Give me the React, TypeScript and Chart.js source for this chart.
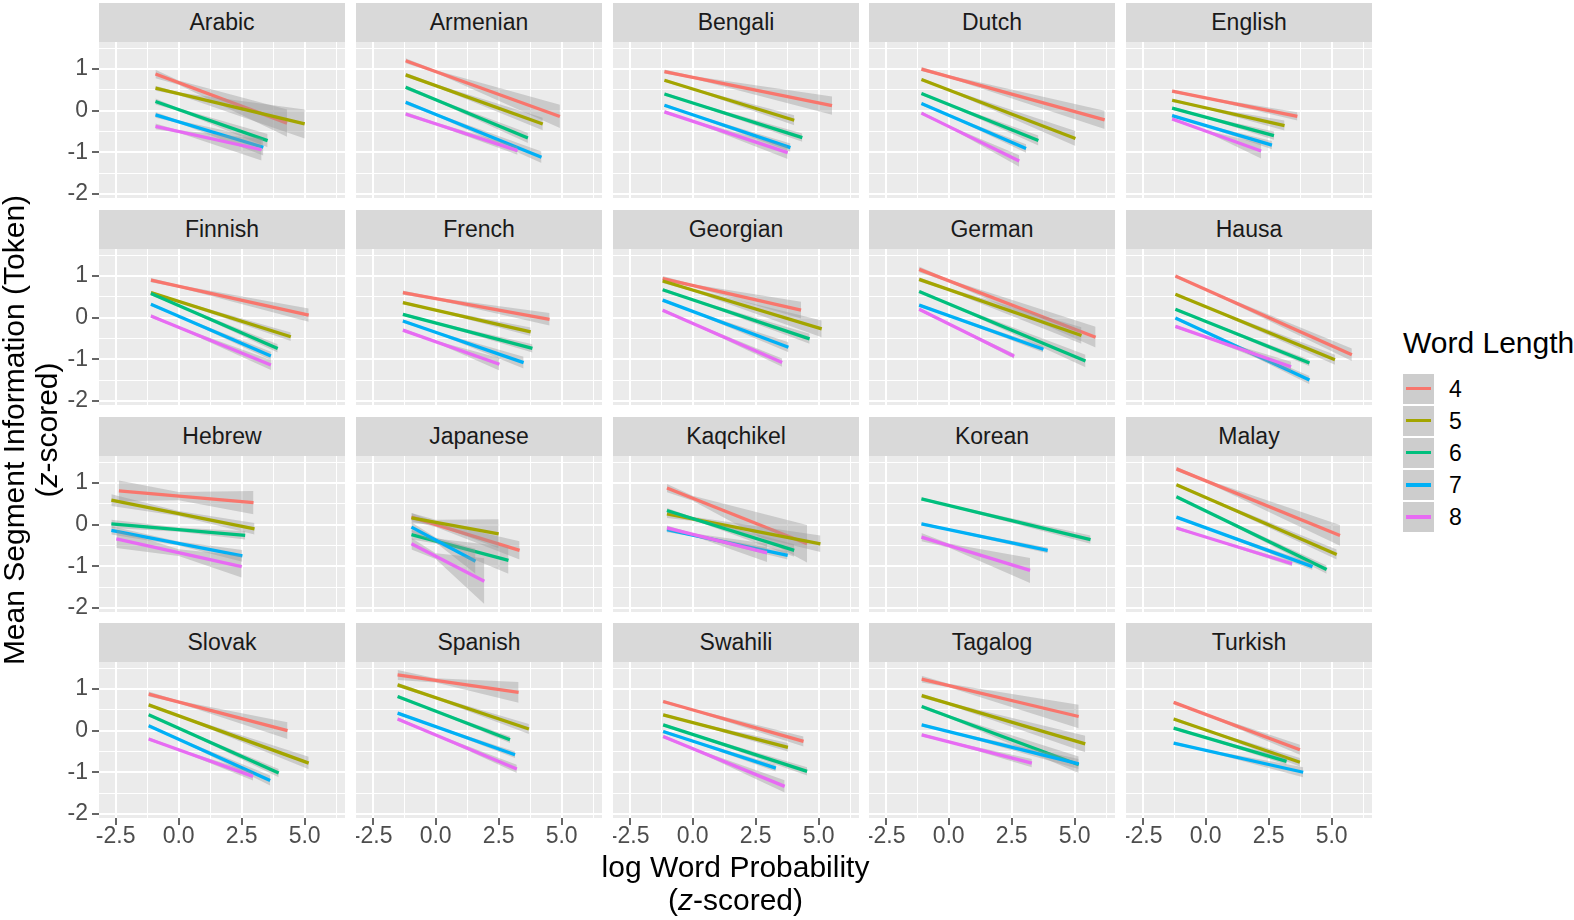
import React, { useEffect, useRef } from "react";
import { Chart, registerables } from "chart.js";

Chart.register(...registerables);

const FONT = "'Liberation Sans', Arial, Helvetica, sans-serif";
Chart.defaults.font.family = FONT;

// ---------------- data ----------------
const languages = [
  "Arabic", "Armenian", "Bengali", "Dutch", "English",
  "Finnish", "French", "Georgian", "German", "Hausa",
  "Hebrew", "Japanese", "Kaqchikel", "Korean", "Malay",
  "Slovak", "Spanish", "Swahili", "Tagalog", "Turkish",
];
const wordLengths = ["4", "5", "6", "7", "8"];
const lengthColors = ["#F8766D", "#A3A500", "#00BF7D", "#00B0F6", "#E76BF3"];

const xMajorTicks = [-2.5, 0, 2.5, 5];
const xTickLabels = ["-2.5", "0.0", "2.5", "5.0"];
const xMinorTicks = [-1.25, 1.25, 3.75, 6.25];
const yMajorTicks = [-2, -1, 0, 1];
const yTickLabels = ["-2", "-1", "0", "1"];
const yMinorTicks = [-1.5, -0.5, 0.5, 1.5];

const X_MIN = -3.16, X_MAX = 6.6;
const Y_MIN = -2.1, Y_MAX = 1.65;
const BAND_NECK_X = 0; // x where the confidence band is narrowest

// one row per word length (4..8): [x0, y0, x1, y1, bandStart, bandNeck, bandEnd]
const arabic = [
  [-0.92, 0.88, 4.3, -0.3, 0.1, 0.05, 0.33],
  [-0.92, 0.54, 5.0, -0.32, 0.06, 0.03, 0.35],
  [-0.92, 0.22, 3.53, -0.72, 0.07, 0.03, 0.16],
  [-0.92, -0.1, 3.36, -0.88, 0.07, 0.03, 0.2],
  [-0.92, -0.38, 3.29, -0.94, 0.07, 0.03, 0.26],
];
const armenian = [
  [-1.19, 1.2, 4.93, -0.14, 0.06, 0.03, 0.28],
  [-1.19, 0.86, 4.25, -0.32, 0.05, 0.03, 0.15],
  [-1.19, 0.56, 3.66, -0.66, 0.05, 0.03, 0.12],
  [-1.19, 0.2, 4.2, -1.12, 0.05, 0.03, 0.14],
  [-1.19, -0.08, 3.25, -0.96, 0.05, 0.03, 0.1],
];
const bengali = [
  [-1.12, 0.94, 5.53, 0.12, 0.05, 0.03, 0.22],
  [-1.12, 0.73, 4.03, -0.23, 0.04, 0.02, 0.12],
  [-1.12, 0.4, 4.35, -0.65, 0.04, 0.02, 0.1],
  [-1.12, 0.13, 3.88, -0.89, 0.04, 0.02, 0.1],
  [-1.12, -0.03, 3.77, -1.01, 0.04, 0.02, 0.15],
];
const dutch = [
  [-1.08, 1.0, 6.19, -0.22, 0.05, 0.03, 0.22],
  [-1.08, 0.75, 5.03, -0.67, 0.04, 0.02, 0.18],
  [-1.08, 0.41, 3.56, -0.72, 0.04, 0.02, 0.12],
  [-1.08, 0.17, 3.07, -0.91, 0.04, 0.02, 0.1],
  [-1.08, -0.06, 2.8, -1.21, 0.04, 0.02, 0.14],
];
const english = [
  [-1.33, 0.47, 3.64, -0.14, 0.04, 0.02, 0.1],
  [-1.33, 0.25, 3.13, -0.36, 0.04, 0.02, 0.12],
  [-1.33, 0.06, 2.71, -0.6, 0.04, 0.02, 0.1],
  [-1.33, -0.12, 2.63, -0.83, 0.04, 0.02, 0.1],
  [-1.33, -0.2, 2.2, -0.97, 0.04, 0.02, 0.18],
];
const finnish = [
  [-1.1, 0.9, 5.16, 0.06, 0.05, 0.03, 0.16],
  [-1.1, 0.6, 4.45, -0.46, 0.04, 0.02, 0.1],
  [-1.1, 0.58, 3.93, -0.74, 0.04, 0.02, 0.1],
  [-1.1, 0.32, 3.66, -0.92, 0.04, 0.02, 0.1],
  [-1.1, 0.04, 3.66, -1.14, 0.04, 0.02, 0.12],
];
const french = [
  [-1.3, 0.6, 4.52, -0.04, 0.05, 0.03, 0.15],
  [-1.3, 0.36, 3.77, -0.34, 0.04, 0.02, 0.1],
  [-1.3, 0.08, 3.84, -0.74, 0.04, 0.02, 0.1],
  [-1.3, -0.08, 3.49, -1.08, 0.04, 0.02, 0.14],
  [-1.3, -0.3, 2.53, -1.12, 0.04, 0.02, 0.15],
];
const georgian = [
  [-1.19, 0.94, 4.3, 0.18, 0.06, 0.03, 0.2],
  [-1.19, 0.88, 5.12, -0.27, 0.05, 0.03, 0.2],
  [-1.19, 0.67, 4.64, -0.51, 0.04, 0.02, 0.12],
  [-1.19, 0.42, 3.8, -0.71, 0.04, 0.02, 0.12],
  [-1.19, 0.18, 3.55, -1.08, 0.04, 0.02, 0.1],
];
const german = [
  [-1.17, 1.16, 5.83, -0.47, 0.07, 0.03, 0.25],
  [-1.17, 0.92, 5.27, -0.43, 0.05, 0.03, 0.2],
  [-1.17, 0.63, 5.43, -1.04, 0.04, 0.02, 0.15],
  [-1.17, 0.3, 3.76, -0.76, 0.04, 0.02, 0.08],
  [-1.17, 0.2, 2.6, -0.93, 0.04, 0.02, 0.06],
];
const hausa = [
  [-1.2, 1.0, 5.8, -0.89, 0.04, 0.02, 0.15],
  [-1.2, 0.56, 5.13, -1.01, 0.04, 0.02, 0.12],
  [-1.2, 0.2, 4.12, -1.09, 0.04, 0.02, 0.08],
  [-1.2, -0.01, 4.12, -1.5, 0.04, 0.02, 0.1],
  [-1.2, -0.21, 3.39, -1.18, 0.04, 0.02, 0.12],
];
const hebrew = [
  [-2.37, 0.81, 2.97, 0.53, 0.25, 0.1, 0.28],
  [-2.67, 0.59, 3.01, -0.1, 0.14, 0.06, 0.14],
  [-2.67, 0.02, 2.64, -0.26, 0.1, 0.05, 0.1],
  [-2.67, -0.14, 2.53, -0.75, 0.1, 0.05, 0.14],
  [-2.47, -0.34, 2.5, -1.01, 0.22, 0.08, 0.26],
];
const japanese = [
  [-0.96, 0.18, 3.33, -0.62, 0.1, 0.06, 0.22],
  [-0.96, 0.16, 2.5, -0.22, 0.12, 0.06, 0.35],
  [-0.96, -0.24, 2.89, -0.86, 0.12, 0.06, 0.32],
  [-0.96, -0.06, 1.58, -0.88, 0.12, 0.06, 0.3],
  [-0.96, -0.46, 1.93, -1.36, 0.14, 0.07, 0.55],
];
const kaqchikel = [
  [-1.02, 0.88, 4.54, -0.46, 0.1, 0.06, 0.45],
  [-1.02, 0.26, 5.07, -0.46, 0.1, 0.05, 0.2],
  [-1.02, 0.34, 4.03, -0.62, 0.06, 0.03, 0.15],
  [-1.02, -0.12, 3.77, -0.74, 0.06, 0.03, 0.1],
  [-1.02, -0.08, 2.95, -0.68, 0.06, 0.03, 0.22],
];
const korean = [
  null,
  null,
  [-1.08, 0.62, 5.63, -0.36, 0.04, 0.02, 0.1],
  [-1.08, 0.02, 3.93, -0.62, 0.04, 0.02, 0.07],
  [-1.08, -0.3, 3.23, -1.1, 0.1, 0.05, 0.3],
];
const malay = [
  [-1.16, 1.34, 5.33, -0.26, 0.05, 0.03, 0.25],
  [-1.16, 0.96, 5.2, -0.72, 0.04, 0.02, 0.12],
  [-1.16, 0.67, 4.8, -1.08, 0.04, 0.02, 0.1],
  [-1.16, 0.18, 4.24, -1.01, 0.04, 0.02, 0.08],
  [-1.16, -0.08, 3.43, -0.94, 0.04, 0.02, 0.06],
];
const slovak = [
  [-1.19, 0.88, 4.32, 0.0, 0.06, 0.03, 0.2],
  [-1.19, 0.62, 5.16, -0.78, 0.04, 0.02, 0.15],
  [-1.19, 0.38, 3.97, -1.02, 0.04, 0.02, 0.1],
  [-1.19, 0.12, 3.63, -1.2, 0.04, 0.02, 0.12],
  [-1.19, -0.2, 2.95, -1.1, 0.04, 0.02, 0.1],
];
const spanish = [
  [-1.51, 1.34, 3.29, 0.92, 0.12, 0.05, 0.25],
  [-1.51, 1.1, 3.7, 0.04, 0.05, 0.03, 0.12],
  [-1.51, 0.82, 2.95, -0.22, 0.04, 0.02, 0.08],
  [-1.51, 0.42, 3.15, -0.58, 0.04, 0.02, 0.08],
  [-1.51, 0.28, 3.22, -0.92, 0.04, 0.02, 0.1],
];
const swahili = [
  [-1.17, 0.7, 4.4, -0.26, 0.04, 0.02, 0.12],
  [-1.17, 0.38, 3.78, -0.4, 0.04, 0.02, 0.1],
  [-1.17, 0.14, 4.54, -0.98, 0.04, 0.02, 0.1],
  [-1.17, -0.02, 3.3, -0.9, 0.04, 0.02, 0.08],
  [-1.17, -0.14, 3.65, -1.34, 0.04, 0.02, 0.15],
];
const tagalog = [
  [-1.07, 1.24, 5.16, 0.34, 0.08, 0.04, 0.28],
  [-1.07, 0.84, 5.42, -0.32, 0.05, 0.03, 0.2],
  [-1.07, 0.58, 5.16, -0.82, 0.05, 0.03, 0.2],
  [-1.07, 0.14, 5.16, -0.8, 0.04, 0.02, 0.12],
  [-1.07, -0.1, 3.3, -0.78, 0.04, 0.02, 0.1],
];
const turkish = [
  [-1.27, 0.68, 3.74, -0.46, 0.04, 0.02, 0.12],
  [-1.27, 0.28, 3.74, -0.76, 0.04, 0.02, 0.1],
  [-1.27, 0.06, 3.21, -0.74, 0.04, 0.02, 0.08],
  [-1.27, -0.3, 3.87, -1.0, 0.04, 0.02, 0.12],
  null,
];

const panelLines = [
  arabic, armenian, bengali, dutch, english,
  finnish, french, georgian, german, hausa,
  hebrew, japanese, kaqchikel, korean, malay,
  slovak, spanish, swahili, tagalog, turkish,
];

// ---------------- layout / style ----------------
const PANEL_W = 246;
const PANEL_H = 156;
const COL_LEFT = [99, 356, 613, 869, 1126];
const ROW_TOP = [42, 249, 456, 662];
const STRIP_H = 39;
const LEFT_M = 60;
const BOTTOM_M = 40;
const EDGE_PAD = 14; // room below left-column panels for the lowest y label
const SMALL_FONT = 23;
const TITLE_FONT = 30;
const BAND_FILL = "rgba(153,153,153,0.4)";

const panelBg = {
  id: "panelBg",
  beforeDraw(chart: any) {
    const { ctx, chartArea: a } = chart;
    ctx.save();
    ctx.fillStyle = "#EBEBEB";
    ctx.fillRect(a.left, a.top, a.right - a.left, a.bottom - a.top);
    ctx.restore();
  },
};

function Panel({ index }: { index: number }) {
  const ref = useRef<HTMLCanvasElement>(null);
  const row = Math.floor(index / 5);
  const col = index % 5;
  const bottomExtra = row === 3 ? BOTTOM_M : col === 0 ? EDGE_PAD : 0;
  const w = PANEL_W + (col === 0 ? LEFT_M : 0);
  const h = PANEL_H + bottomExtra;

  useEffect(() => {
    if (!ref.current) return;
    const datasets: any[] = [];
    let order = 1000;
    panelLines[index].forEach((ln: any, g: number) => {
      if (!ln) return;
      const [x0, y0, x1, y1, b0, bn, b1] = ln;
      const yn = y0 + ((y1 - y0) * (BAND_NECK_X - x0)) / (x1 - x0);
      datasets.push({
        label: wordLengths[g] + " upper",
        data: [
          { x: x0, y: y0 + b0 },
          { x: BAND_NECK_X, y: yn + bn },
          { x: x1, y: y1 + b1 },
        ],
        borderColor: "rgba(0,0,0,0)",
        borderWidth: 0,
        fill: false,
        order: order--,
      });
      datasets.push({
        label: wordLengths[g] + " lower",
        data: [
          { x: x0, y: y0 - b0 },
          { x: BAND_NECK_X, y: yn - bn },
          { x: x1, y: y1 - b1 },
        ],
        borderColor: "rgba(0,0,0,0)",
        borderWidth: 0,
        backgroundColor: BAND_FILL,
        fill: "-1",
        order: order--,
      });
      datasets.push({
        label: wordLengths[g],
        data: [
          { x: x0, y: y0 },
          { x: x1, y: y1 },
        ],
        borderColor: lengthColors[g],
        borderWidth: 3.3,
        fill: false,
        order: order--,
      });
    });

    const xAll = [...xMajorTicks, ...xMinorTicks].sort((a, b) => a - b);
    const yAll = [...yMajorTicks, ...yMinorTicks].sort((a, b) => a - b);
    const isXMajor = (v: number) => xMajorTicks.includes(v);
    const isYMajor = (v: number) => yMajorTicks.includes(v);

    const chart = new Chart(ref.current, {
      type: "line",
      data: { datasets },
      plugins: [panelBg],
      options: {
        animation: false,
        responsive: false,
        maintainAspectRatio: false,
        devicePixelRatio: 1,
        events: [],
        layout: { padding: 0, autoPadding: false },
        elements: { point: { radius: 0 }, line: { tension: 0 } },
        plugins: {
          legend: { display: false },
          tooltip: { enabled: false },
          title: { display: false },
        },
        scales: {
          x: {
            type: "linear",
            min: X_MIN,
            max: X_MAX,
            afterBuildTicks: (s: any) => {
              s.ticks = xAll.map((v) => ({ value: v }));
            },
            afterFit: (s: any) => {
              s.height = bottomExtra;
              s.paddingLeft = 0;
              s.paddingRight = 0;
            },
            border: { display: false },
            grid: {
              color: "#FFFFFF",
              lineWidth: (c: any) => (isXMajor(c.tick?.value) ? 2 : 1),
              drawTicks: row === 3,
              tickLength: 7,
              tickWidth: 1.5,
              tickColor: (c: any) => (isXMajor(c.tick?.value) ? "#333333" : "rgba(0,0,0,0)"),
            },
            ticks: {
              display: row === 3,
              autoSkip: false,
              maxRotation: 0,
              minRotation: 0,
              padding: 0,
              color: "#4D4D4D",
              font: { size: SMALL_FONT, lineHeight: 1 },
              callback: (v: any) => {
                const i = xMajorTicks.indexOf(Number(v));
                return i >= 0 ? xTickLabels[i] : "";
              },
            },
          },
          y: {
            type: "linear",
            min: Y_MIN,
            max: Y_MAX,
            afterBuildTicks: (s: any) => {
              s.ticks = yAll.map((v) => ({ value: v }));
            },
            afterFit: (s: any) => {
              s.width = col === 0 ? LEFT_M : 0;
              s.paddingTop = 0;
              s.paddingBottom = 0;
            },
            border: { display: false },
            grid: {
              color: "#FFFFFF",
              lineWidth: (c: any) => (isYMajor(c.tick?.value) ? 2 : 1),
              drawTicks: col === 0,
              tickLength: 7,
              tickWidth: 1.5,
              tickColor: (c: any) => (isYMajor(c.tick?.value) ? "#333333" : "rgba(0,0,0,0)"),
            },
            ticks: {
              display: col === 0,
              autoSkip: false,
              padding: 4,
              color: "#4D4D4D",
              font: { size: SMALL_FONT, lineHeight: 1 },
              callback: (v: any) => {
                const i = yMajorTicks.indexOf(Number(v));
                return i >= 0 ? yTickLabels[i] : "";
              },
            },
          },
        },
      } as any,
    });
    return () => chart.destroy();
  }, [index]);

  return (
    <canvas
      ref={ref}
      width={w}
      height={h}
      style={{
        position: "absolute",
        left: COL_LEFT[col] - (col === 0 ? LEFT_M : 0),
        top: ROW_TOP[row],
        width: w,
        height: h,
      }}
    />
  );
}

export default function App() {
  return (
    <div
      style={{
        position: "absolute",
        left: 0,
        top: 0,
        width: 1574,
        height: 920,
        background: "#FFFFFF",
        fontFamily: FONT,
        overflow: "hidden",
      }}
    >
      {languages.map((lang, i) => {
        const row = Math.floor(i / 5);
        const col = i % 5;
        return (
          <div
            key={"s" + lang}
            style={{
              position: "absolute",
              left: COL_LEFT[col],
              top: ROW_TOP[row] - STRIP_H,
              width: PANEL_W,
              height: STRIP_H,
              background: "#D9D9D9",
              color: "#1A1A1A",
              fontSize: SMALL_FONT,
              display: "flex",
              alignItems: "center",
              justifyContent: "center",
            }}
          >
            {lang}
          </div>
        );
      })}
      {languages.map((lang, i) => (
        <Panel key={"p" + lang} index={i} />
      ))}

      {/* x axis title */}
      <div
        style={{
          position: "absolute",
          left: 735.5 - 400,
          width: 800,
          top: 849.5,
          textAlign: "center",
          fontSize: TITLE_FONT,
          lineHeight: "33px",
          color: "#000000",
        }}
      >
        <div>log Word Probability</div>
        <div>
          (<i>z</i>-scored)
        </div>
      </div>

      {/* y axis title */}
      <div
        style={{
          position: "absolute",
          left: 30 - 350,
          top: 430 - 33,
          width: 700,
          height: 66,
          textAlign: "center",
          fontSize: TITLE_FONT,
          lineHeight: "33px",
          color: "#000000",
          transform: "rotate(-90deg)",
        }}
      >
        <div>Mean Segment Information (Token)</div>
        <div>
          (<i>z</i>-scored)
        </div>
      </div>

      {/* legend */}
      <div
        style={{
          position: "absolute",
          left: 1403,
          top: 343 - 17,
          fontSize: TITLE_FONT,
          lineHeight: "34px",
          color: "#000000",
          whiteSpace: "nowrap",
        }}
      >
        Word Length
      </div>
      {wordLengths.map((wl, i) => {
        const cy = 388.5 + 32.1 * i;
        return (
          <React.Fragment key={"l" + wl}>
            <div
              style={{
                position: "absolute",
                left: 1403,
                top: cy - 15,
                width: 31,
                height: 30,
                background: "#CDCDCD",
              }}
            >
              <div
                style={{
                  position: "absolute",
                  left: 3,
                  top: 13.5,
                  width: 25,
                  height: 3.3,
                  background: lengthColors[i],
                }}
              />
            </div>
            <div
              style={{
                position: "absolute",
                left: 1449,
                top: cy - 14,
                height: 28,
                lineHeight: "28px",
                fontSize: SMALL_FONT,
                color: "#000000",
              }}
            >
              {wl}
            </div>
          </React.Fragment>
        );
      })}
    </div>
  );
}
